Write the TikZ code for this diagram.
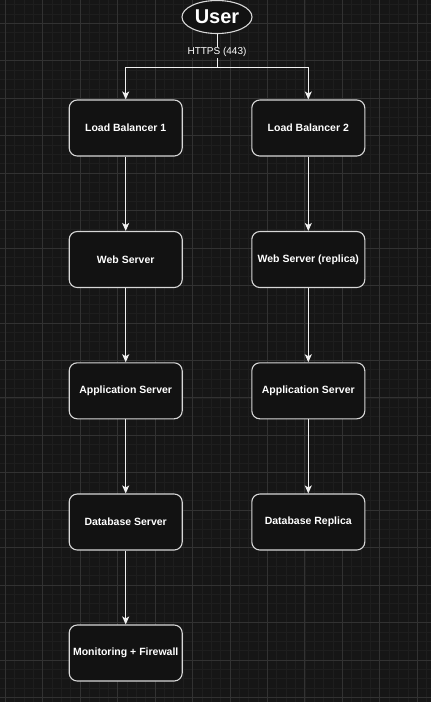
\documentclass[tikz,border=0pt]{standalone}
\usepackage{fontspec}
\setmainfont{Liberation Sans}
\usepackage{xcolor}
\usetikzlibrary{arrows.meta, positioning, shapes.geometric}
\definecolor{canvasbg}{RGB}{22,22,22}
\definecolor{gridminor}{RGB}{30,30,30}
\definecolor{gridmajor}{RGB}{50,50,50}
\definecolor{boxfill}{RGB}{18,18,18}
\definecolor{boxline}{RGB}{215,215,215}
\definecolor{wirecol}{RGB}{240,240,240}

\tikzset{
    server/.style={draw=boxline, line width=1.1pt, fill=boxfill, rounded corners=8pt,
        minimum width=113pt, minimum height=56pt, text=white,
        font=\fontsize{10.5}{12}\selectfont\bfseries},
    wire/.style={draw=wirecol, line width=1pt},
    arr/.style={wire, -{Stealth[length=8pt, width=7pt, inset=2pt]}},
    lbl/.style={fill=canvasbg, text=white, inner sep=1pt, font=\fontsize{10}{12}\selectfont}
}

\begin{document}
\begin{tikzpicture}[x=1pt, y=-1pt]
    \useasboundingbox (0,0) rectangle (431,702);
    \fill[canvasbg] (0,0) rectangle (431,702);

    % grid
    \foreach \k in {0,...,45}
        \draw[gridminor, line width=0.6pt] ({5.25+\k*9.3625},0) -- ({5.25+\k*9.3625},702);
    \foreach \k in {-2,...,72}
        \draw[gridminor, line width=0.6pt] (0,{23.3+\k*9.3625}) -- (431,{23.3+\k*9.3625});
    \foreach \k in {0,...,11}
        \draw[gridmajor, line width=0.8pt] ({5.25+\k*37.45},0) -- ({5.25+\k*37.45},702);
    \foreach \k in {0,...,18}
        \draw[gridmajor, line width=0.8pt] (0,{23.3+\k*37.45}) -- (431,{23.3+\k*37.45});

    % user
    \node[ellipse, draw=boxline, line width=1.1pt, fill=boxfill, text=white,
        minimum width=70pt, minimum height=33pt, inner sep=0pt,
        font=\fontsize{20}{22}\selectfont\bfseries] (user) at (217,17) {User};

    % left column
    \node[server] (lbone) at (125.7,128) {Load Balancer 1};
    \node[server] (web) at (125.7,259.5) {Web Server};
    \node[server] (app) at (125.7,390.8) {Application Server};
    \node[server] (db) at (125.7,522) {Database Server};
    \node[server] (mon) at (125.7,653) {Monitoring + Firewall};

    % right column
    \node[server] (lbtwo) at (308.3,128) {Load Balancer 2};
    \node[server] (webrep) at (308.3,259.5) {Web Server (replica)};
    \node[server] (apprep) at (308.3,390.8) {Application Server};
    \node[server] (dbrep) at (308.3,522) {Database Replica};

    % https split
    \coordinate (fork) at (217,67);
    \draw[wire] (user.south) -- node[lbl, pos=0.55] (https) {HTTPS (443)} (fork);
    \draw[arr] (fork) -| (lbone.north);
    \draw[arr] (fork) -| (lbtwo.north);

    % chains
    \draw[arr] (lbone) -- (web);
    \draw[arr] (web) -- (app);
    \draw[arr] (app) -- (db);
    \draw[arr] (db) -- (mon);
    \draw[arr] (lbtwo) -- (webrep);
    \draw[arr] (webrep) -- (apprep);
    \draw[arr] (apprep) -- (dbrep);
\end{tikzpicture}
\end{document}
